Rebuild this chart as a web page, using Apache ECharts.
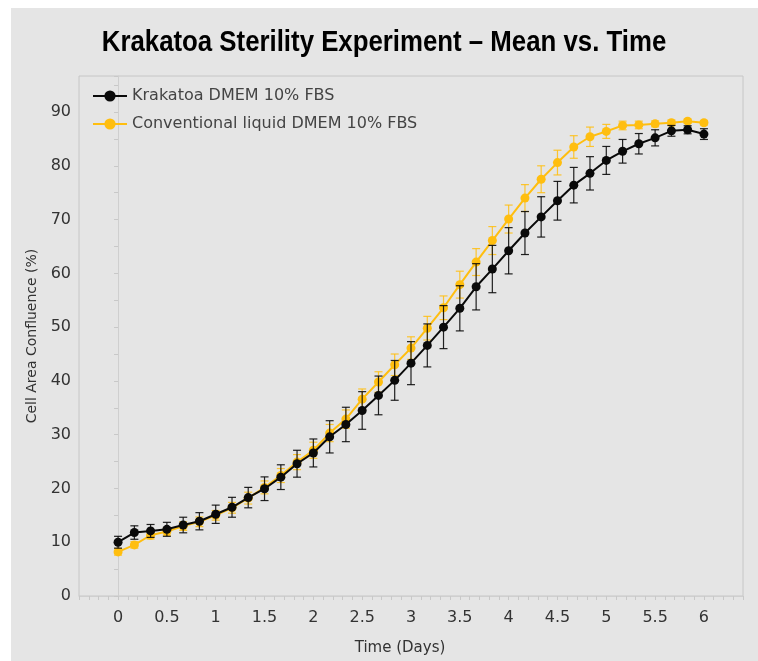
<!DOCTYPE html>
<html>
<head>
<meta charset="utf-8">
<script src="https://cdn.jsdelivr.net/npm/echarts@6/dist/echarts.min.js"></script>
<style>
html,body{margin:0;padding:0;background:#fff;}
#wrap{position:relative;width:758px;height:661px;background:#fff;overflow:hidden;}
#bg{position:absolute;left:11px;top:8px;width:747px;height:653px;background:#e5e5e5;}
#chart{position:absolute;left:0;top:0;width:758px;height:661px;}
</style>
</head>
<body>
<div id="wrap"><div id="bg"></div><div id="chart"></div></div>
<script>
var titleText = 'Krakatoa Sterility Experiment \u2013 Mean vs. Time';
var seriesNames = ['Krakatoa DMEM 10% FBS', 'Conventional liquid DMEM 10% FBS'];
var xName = 'Time (Days)';
var yName = 'Cell Area Confluence (%)';

var times = [0, 0.167, 0.333, 0.5, 0.667, 0.833, 1, 1.167, 1.333, 1.5, 1.667, 1.833,
  2, 2.167, 2.333, 2.5, 2.667, 2.833, 3, 3.167, 3.333, 3.5, 3.667, 3.833,
  4, 4.167, 4.333, 4.5, 4.667, 4.833, 5, 5.167, 5.333, 5.5, 5.667, 5.833, 6];

var krakatoaMean = [10.0, 11.8, 12.1, 12.4, 13.2, 13.9, 15.2, 16.5, 18.3, 19.95, 22.1, 24.6,
  26.6, 29.6, 31.9, 34.5, 37.3, 40.1, 43.3, 46.6, 50.0, 53.5, 57.5, 60.8,
  64.2, 67.5, 70.5, 73.5, 76.4, 78.6, 81.0, 82.7, 84.1, 85.2, 86.5, 86.7, 85.9];
var krakatoaErr = [1.1, 1.25, 1.2, 1.3, 1.45, 1.6, 1.7, 1.85, 1.9, 2.2, 2.3, 2.5,
  2.6, 3.0, 3.2, 3.5, 3.6, 3.7, 4.0, 4.0, 4.0, 4.2, 4.3, 4.4,
  4.3, 4.0, 3.75, 3.6, 3.3, 3.1, 2.6, 2.2, 1.9, 1.5, 1.0, 0.75, 1.0];

var conventionalMean = [8.2, 9.5, 11.3, 12.0, 13.0, 13.8, 15.0, 16.4, 18.2, 20.2, 22.4, 24.9,
  27.1, 30.3, 32.9, 36.6, 39.8, 43.0, 46.1, 49.8, 53.6, 57.9, 62.1, 66.1,
  70.1, 74.0, 77.5, 80.6, 83.5, 85.4, 86.4, 87.5, 87.6, 87.8, 88.0, 88.3, 88.0];
var conventionalErr = [0.6, 0.6, 0.7, 0.7, 0.8, 0.9, 0.9, 1.0, 1.1, 1.2, 1.3, 1.4,
  1.5, 1.6, 1.7, 1.9, 1.9, 2.0, 2.1, 2.2, 2.2, 2.5, 2.5, 2.6,
  2.6, 2.5, 2.5, 2.3, 2.1, 1.8, 1.3, 0.8, 0.7, 0.55, 0.5, 0.4, 0.4];

var xTickLabels = ['0', '0.5', '1', '1.5', '2', '2.5', '3', '3.5', '4', '4.5', '5', '5.5', '6'];

var BLACK = '#0a0a0a';
var YELLOW = '#FFBE0F';
var FONT = 'DejaVu Sans';

function pairs(xs, ys) { return xs.map(function (x, i) { return [x, ys[i]]; }); }
function errData(xs, m, e) { return xs.map(function (x, i) { return [x, m[i] - e[i], m[i] + e[i]]; }); }

function errRender(color, opacity) {
  return function (params, api) {
    var x = api.value(0);
    var lo = api.coord([x, api.value(1)]);
    var hi = api.coord([x, api.value(2)]);
    var w = 4;
    var st = { stroke: color, lineWidth: 1.2, opacity: opacity };
    return {
      type: 'group',
      children: [
        { type: 'line', shape: { x1: lo[0], y1: lo[1], x2: hi[0], y2: hi[1] }, style: st },
        { type: 'line', shape: { x1: lo[0] - w, y1: lo[1], x2: lo[0] + w, y2: lo[1] }, style: st },
        { type: 'line', shape: { x1: hi[0] - w, y1: hi[1], x2: hi[0] + w, y2: hi[1] }, style: st }
      ]
    };
  };
}

var chart = echarts.init(document.getElementById('chart'), null, { renderer: 'canvas' });
chart.setOption({
  backgroundColor: 'transparent',
  animation: false,
  graphic: [{
    type: 'text',
    x: 384, y: 43,
    scaleX: 0.86,
    style: {
      text: titleText,
      font: 'bold 30px "Liberation Sans"',
      fill: '#000',
      textAlign: 'center',
      textVerticalAlign: 'middle'
    }
  }],
  legend: {
    orient: 'vertical',
    left: 87, top: 83,
    itemWidth: 34, itemHeight: 14, itemGap: 12,
    data: [seriesNames[0], seriesNames[1]],
    textStyle: { fontFamily: FONT, fontSize: 16, color: '#444' }
  },
  grid: {
    left: 79, right: 15, top: 76, bottom: 65,
    show: true, borderColor: '#c6c6c6', borderWidth: 1, backgroundColor: 'transparent'
  },
  xAxis: {
    type: 'value',
    min: -0.4, max: 6.4, interval: 0.1,
    name: xName, nameLocation: 'middle', nameGap: 45,
    nameTextStyle: { fontFamily: FONT, fontSize: 15, color: '#333', padding: [0, 22, 0, 0] },
    axisLine: { show: true, lineStyle: { color: '#cfcfcf' } },
    axisTick: { show: true, length: 4, lineStyle: { color: '#c8c8c8' } },
    axisLabel: {
      interval: 0, margin: 14, fontFamily: FONT, fontSize: 16, color: '#333',
      formatter: function (v) {
        var r = Math.round(v * 2) / 2;
        if (Math.abs(v - r) > 1e-6) return '';
        var s = String(r);
        return xTickLabels.indexOf(s) >= 0 ? s : '';
      }
    },
    splitLine: { show: false }
  },
  yAxis: {
    type: 'value',
    min: 0, max: 96.7, interval: 10,
    name: yName, nameLocation: 'middle', nameGap: 38, nameRotate: 90,
    nameTextStyle: { fontFamily: FONT, fontSize: 14, color: '#333' },
    axisLine: { show: true, lineStyle: { color: '#cfcfcf' } },
    axisTick: { show: true, length: 4, lineStyle: { color: '#c8c8c8' } },
    minorTick: { show: true, splitNumber: 2, length: 4, lineStyle: { color: '#c8c8c8' } },
    axisLabel: { margin: 8, fontFamily: FONT, fontSize: 16, color: '#333', showMaxLabel: false },
    splitLine: { show: false }
  },
  series: [
    {
      type: 'custom', name: 'convErr', z: 1, silent: true,
      renderItem: errRender(YELLOW, 0.85),
      encode: { x: 0, y: [1, 2] },
      data: errData(times, conventionalMean, conventionalErr)
    },
    {
      type: 'line', name: seriesNames[1], z: 2,
      data: pairs(times, conventionalMean),
      symbol: 'circle', symbolSize: 9, showAllSymbol: true,
      itemStyle: { color: YELLOW },
      lineStyle: { color: YELLOW, width: 2 }
    },
    {
      type: 'custom', name: 'krakErr', z: 3, silent: true,
      renderItem: errRender(BLACK, 0.9),
      encode: { x: 0, y: [1, 2] },
      data: errData(times, krakatoaMean, krakatoaErr)
    },
    {
      type: 'line', name: seriesNames[0], z: 4,
      data: pairs(times, krakatoaMean),
      symbol: 'circle', symbolSize: 9, showAllSymbol: true,
      itemStyle: { color: BLACK },
      lineStyle: { color: BLACK, width: 2 }
    }
  ]
});
</script>
</body>
</html>
